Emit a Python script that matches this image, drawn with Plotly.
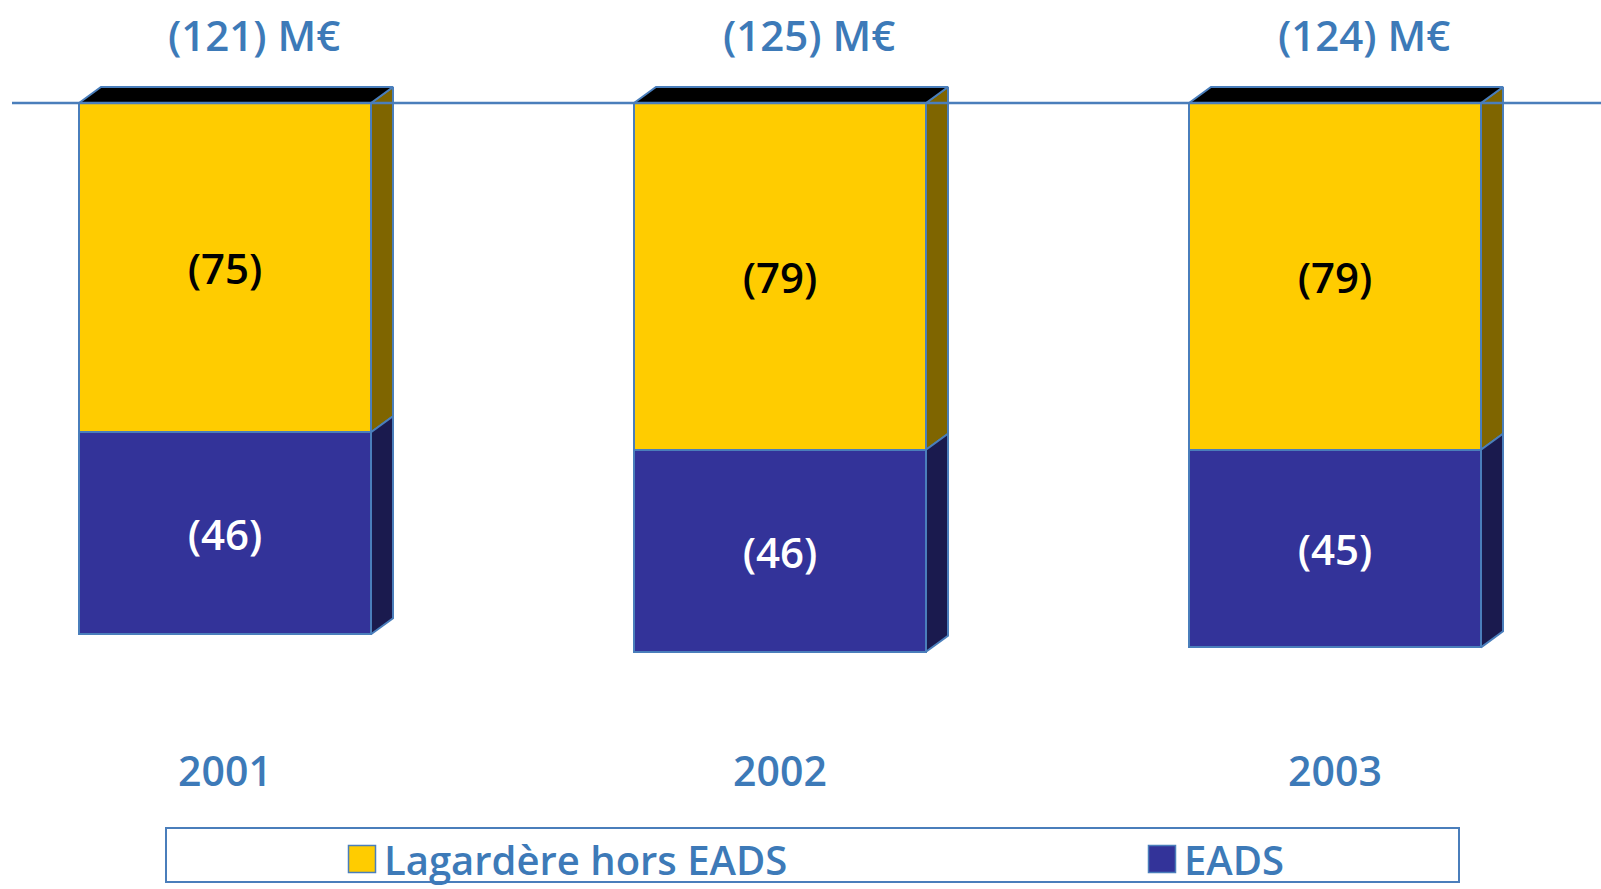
import plotly.graph_objects as go

# ---- data ----
years = ["2001", "2002", "2003"]
lagardere = [75, 79, 79]      # Lagardère hors EADS (negative contributions)
eads = [46, 46, 45]           # EADS
series_names = ["Lagardère hors EADS", "EADS"]
unit = "M€"

# ---- style ----
YELLOW = "#FFCC00"
BLUE = "#333399"
YSIDE = "#7F6500"
BSIDE = "#1A1A4E"
TOPC = "#000000"
EDGE = "#4A7EBB"
TXT = "#3D7AB8"
SANS = "Open Sans, sans-serif"

W, H = 1601, 889
PPU = 4.39            # pixels per unit
BASE_PX = 103         # pixel row of the zero line
AXIS_PX = 744         # bottom of plot area
SPACING = 555         # pixels between categories
FIRST_PX = 225        # pixel center of first category
TOTAL_PX = 34         # pixel row of totals
TOTAL_DX_PX = 29      # horizontal offset of totals from bar centre

y_top = BASE_PX / PPU
y_bot = -(AXIS_PX - BASE_PX) / PPU
x_left = -FIRST_PX / SPACING
x_right = (len(years) - 1) + (W - (FIRST_PX + SPACING * (len(years) - 1))) / SPACING
bar_w = 292 / SPACING
dx = 22 / SPACING
dy = 16 / PPU

xs = list(range(len(years)))
fig = go.Figure()

# front faces
fig.add_trace(go.Bar(
    x=xs, y=[-v for v in lagardere], width=bar_w, name=series_names[0],
    marker=dict(color=YELLOW, line=dict(color=EDGE, width=2)),
    text=[f"({v})" for v in lagardere], textposition="inside",
    insidetextanchor="middle", textangle=0, constraintext="none",
    textfont=dict(family=SANS, size=42, color="black", weight=600),
    showlegend=False, hoverinfo="skip"))
fig.add_trace(go.Bar(
    x=xs, y=[-v for v in eads], width=bar_w, name=series_names[1],
    marker=dict(color=BLUE, line=dict(color=EDGE, width=2)),
    text=[f"({v})" for v in eads], textposition="inside",
    insidetextanchor="middle", textangle=0, constraintext="none",
    textfont=dict(family=SANS, size=42, color="white", weight=600),
    showlegend=False, hoverinfo="skip"))

# 3D side and top faces computed from values
for i in xs:
    xl = i - bar_w / 2
    xr = i + bar_w / 2
    segs = [(0, -lagardere[i], YSIDE), (-lagardere[i], -lagardere[i] - eads[i], BSIDE)]
    for y0, y1, col in segs:
        fig.add_trace(go.Scatter(
            x=[xr, xr + dx, xr + dx, xr, xr], y=[y0, y0 + dy, y1 + dy, y1, y0],
            fill="toself", fillcolor=col, mode="lines",
            line=dict(color=EDGE, width=2), showlegend=False, hoverinfo="skip"))
    fig.add_trace(go.Scatter(
        x=[xl, xl + dx, xr + dx, xr, xl], y=[0, dy, dy, 0, 0],
        fill="toself", fillcolor=TOPC, mode="lines",
        line=dict(color=EDGE, width=2), showlegend=False, hoverinfo="skip"))

# legend entries (one legend per entry so they can be spaced like the original)
LEG_SYM_PX = [362, 1162]      # centre of legend squares
LEG_Y_PX = 859
SQ = 27
for k, (name, col) in enumerate(zip(series_names, [YELLOW, BLUE])):
    lg = "legend" if k == 0 else f"legend{k + 1}"
    fig.add_trace(go.Scatter(
        x=[None], y=[None], mode="markers", name=name, legend=lg,
        marker=dict(symbol="square", size=16, color=col, line=dict(width=0))))
    cx = LEG_SYM_PX[k]
    fig.add_shape(type="rect", xref="paper", yref="paper",
                  x0=(cx - SQ / 2) / W, x1=(cx + SQ / 2) / W,
                  y0=1 - (LEG_Y_PX + SQ / 2) / H, y1=1 - (LEG_Y_PX - SQ / 2) / H,
                  fillcolor=col, line=dict(color=EDGE, width=1.5))

# totals
for i in xs:
    tot = lagardere[i] + eads[i]
    fig.add_annotation(x=i + TOTAL_DX_PX / SPACING, y=(BASE_PX - TOTAL_PX) / PPU,
                       text=f"({tot}) {unit}",
                       showarrow=False, xanchor="center", yanchor="middle",
                       font=dict(family=SANS, size=42, color=TXT, weight=600))

# zero line
fig.add_shape(type="line", xref="paper", yref="y", x0=12 / W, x1=1, y0=0, y1=0,
              line=dict(color=EDGE, width=2.5), layer="above")
# legend frame
fig.add_shape(type="rect", xref="paper", yref="paper",
              x0=166 / W, x1=1459 / W, y0=1 - 882 / H, y1=1 - 828 / H,
              line=dict(color=EDGE, width=2), fillcolor="rgba(0,0,0,0)")

leg_common = dict(orientation="h", xanchor="left", y=1 - LEG_Y_PX / H, yanchor="middle",
                  itemsizing="trace", bgcolor="rgba(0,0,0,0)", borderwidth=0,
                  font=dict(family=SANS, size=40, color=TXT, weight=600))

fig.update_layout(
    width=W, height=H, margin=dict(l=0, r=0, t=0, b=0, autoexpand=False),
    paper_bgcolor="white", plot_bgcolor="white",
    barmode="relative", bargap=0,
    xaxis=dict(range=[x_left, x_right], tickvals=xs, ticktext=years, automargin=False,
               showgrid=False, zeroline=False, showline=False, ticks="",
               tickfont=dict(family=SANS, size=41, color=TXT, weight=600)),
    yaxis=dict(range=[y_bot, y_top], domain=[1 - AXIS_PX / H, 1], automargin=False,
               showgrid=False, zeroline=False, showline=False,
               showticklabels=False, ticks=""),
    showlegend=True,
    legend=dict(x=(LEG_SYM_PX[0] - 18) / W, **leg_common),
    legend2=dict(x=(LEG_SYM_PX[1] - 18) / W, **leg_common),
)

fig.write_html("out.html", config={"displayModeBar": False},
               post_script="document.body.style.margin='0';")
